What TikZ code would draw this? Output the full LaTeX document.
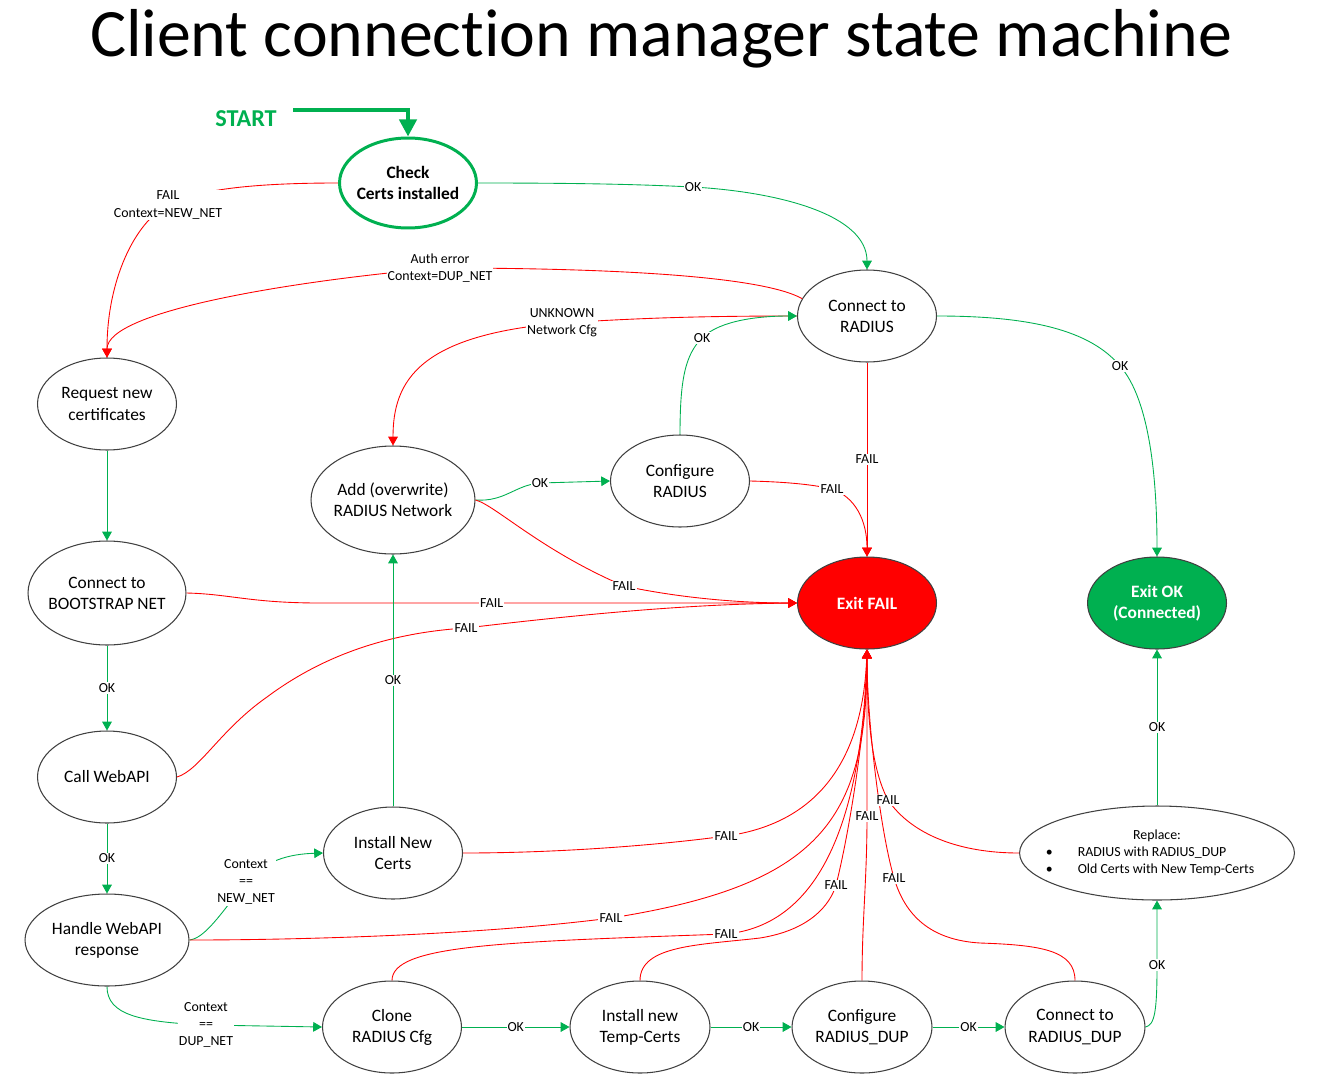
\documentclass[tikz,border=0pt]{standalone}
\usepackage{fontspec}
\setmainfont{Carlito}
\usetikzlibrary{arrows.meta,shapes.geometric}
\definecolor{OkClr}{RGB}{0,176,80}
\definecolor{FailClr}{RGB}{255,0,0}
\definecolor{EdgeClr}{RGB}{64,64,64}

\begin{document}
\begin{tikzpicture}[x=0.02cm,y=-0.02cm,
  state/.style={ellipse,draw=EdgeClr,line width=0.6pt,minimum width=2.78cm,minimum height=1.84cm,
    inner xsep=-4pt,inner ysep=0pt,align=center,font=\fontsize{9.9}{12}\selectfont},
  bigstate/.style={minimum width=3.28cm,minimum height=2.16cm},
  lbl/.style={fill=white,inner sep=0.6pt,align=center,font=\fontsize{7.9}{9.7}\selectfont},
  okline/.style={draw=OkClr,line width=0.5pt,-{Triangle[length=5pt,width=5.5pt]}},
  failline/.style={draw=FailClr,line width=0.5pt,-{Triangle[length=5pt,width=5.5pt]}}]

\useasboundingbox (0,0) rectangle (1327,1091);

\node[anchor=base,font=\fontsize{38.6}{44}\selectfont\addfontfeature{Ligatures=NoCommon}] (title) at (661,57) {Client connection manager state machine};

\node[anchor=base,text=OkClr,font=\fontsize{13.8}{16}\selectfont\bfseries] (start) at (246,127) {START};
\coordinate (s0) at (293,110);

\node[state,draw=OkClr,line width=1.7pt,minimum width=2.74cm,minimum height=1.8cm,
  font=\fontsize{9.9}{12}\selectfont\bfseries] (check) at (408,183) {Check\\Certs installed};
\node[state] (radius) at (867,316) {Connect to\\RADIUS};
\node[state] (req) at (107,404) {Request new\\certificates};
\node[state,bigstate] (add) at (393,500) {Add (overwrite)\\RADIUS Network};
\node[state] (cfg) at (680,481) {Configure\\RADIUS};
\node[state,fill=FailClr,text=white,font=\fontsize{9.9}{12}\selectfont\bfseries] (exitfail) at (867,603) {Exit FAIL};
\node[state,fill=OkClr,text=white,font=\fontsize{9.9}{12}\selectfont\bfseries] (exitok) at (1157,603) {Exit OK\\(Connected)};
\node[state,minimum width=3.16cm,minimum height=2.08cm] (boot) at (107,593) {Connect to\\BOOTSTRAP NET};
\node[state] (callapi) at (107,777) {Call WebAPI};
\node[state] (install) at (393,853) {Install New\\Certs};
\node[state,minimum width=3.28cm] (handle) at (107,940) {Handle WebAPI\\response};
\node[state,minimum width=5.44cm,minimum height=1.88cm,inner xsep=-8pt,font=\fontsize{7.9}{9.7}\selectfont] (replace) at (1157,853)
  {\begin{tabular}{@{}p{0.64cm}@{}l@{\hspace{0.28cm}}}\multicolumn{2}{c}{Replace:}\\ \textbullet & RADIUS with RADIUS\_DUP\\ \textbullet & Old Certs with New Temp-Certs\end{tabular}};
\node[state] (clone) at (392,1027) {Clone\\RADIUS Cfg};
\node[state,minimum width=2.8cm] (temp) at (640,1027) {Install new\\Temp-Certs};
\node[state,minimum width=2.8cm] (cfgdup) at (862,1027) {Configure\\RADIUS\_DUP};
\node[state,minimum width=2.8cm] (conndup) at (1075,1027) {Connect to\\RADIUS\_DUP};

\draw[draw=OkClr,line width=2.3pt,-{Triangle[length=9.7pt,width=9.7pt]}] (s0) -| (check.north);

\draw[okline] (check.east) .. controls (600,183) and (650,185) .. (693,187) node[lbl]{OK} .. controls (780,192) and (867,215) .. (radius.north);
\draw[failline] (check.west) .. controls (250,183) and (195,190) .. (168,205) node[lbl]{FAIL\\Context=NEW\_NET} .. controls (135,222) and (107,280) .. (req.north);
\draw[failline] (radius.165) .. controls (760,275) and (600,268) .. (440,268) node[lbl]{Auth error\\Context=DUP\_NET} .. controls (300,280) and (107,310) .. (req.north);
\draw[failline] (radius.west) .. controls (700,316) and (640,318) .. (562,323) node[lbl]{UNKNOWN\\Network Cfg} .. controls (420,335) and (393,380) .. (add.north);
\draw[okline] (cfg.north) .. controls (680,380) and (685,355) .. (702,338) node[lbl]{OK} .. controls (720,320) and (760,316) .. (radius.west);
\draw[okline] (radius.east) .. controls (1030,316) and (1090,330) .. (1120,366) node[lbl]{OK} .. controls (1150,400) and (1157,480) .. (exitok.north);
\draw[failline] (radius.south) -- node[lbl]{FAIL} (exitfail.north);

\draw[okline] (add.east) .. controls (505,502) and (515,485) .. (540,483) node[lbl]{OK} -- (cfg.west);
\draw[failline] (add.east) .. controls (495,505) and (540,550) .. (624,586) node[lbl]{FAIL} .. controls (680,598) and (740,603) .. (exitfail.west);
\draw[failline] (cfg.east) .. controls (790,482) and (815,485) .. (832,489) node[lbl]{FAIL} .. controls (855,497) and (867,520) .. (exitfail.north);

\draw[okline] (req.south) -- (boot.north);
\draw[failline] (boot.east) .. controls (230,594) and (250,603) .. (320,603) -- node[lbl,pos=0.36]{FAIL} (exitfail.west);
\draw[okline] (boot.south) -- node[lbl]{OK} (callapi.north);
\draw[failline] (callapi.east) .. controls (200,770) and (220,730) .. (267,697) .. controls (330,650) and (400,632) .. (466,628) node[lbl]{FAIL} .. controls (600,612) and (700,604) .. (exitfail.west);
\draw[okline] (callapi.south) -- node[lbl]{OK} (handle.north);

\draw[okline] (handle.east) .. controls (205,938) and (220,915) .. (246,882) node[lbl]{Context\\==\\NEW\_NET} .. controls (265,860) and (290,854) .. (install.west);
\draw[failline] (handle.east) .. controls (300,940) and (480,935) .. (611,918) node[lbl]{FAIL} .. controls (820,885) and (867,820) .. (exitfail.south);
\draw[okline] (handle.south) .. controls (107,1015) and (140,1022) .. (206,1025) node[lbl]{Context\\==\\DUP\_NET} -- (clone.west);

\draw[okline] (install.north) -- node[lbl]{OK} (add.south);
\draw[failline] (install.east) .. controls (560,853) and (660,845) .. (726,836) node[lbl]{FAIL} .. controls (800,826) and (862,780) .. (exitfail.south);

\draw[failline] (clone.north) .. controls (392,945) and (500,942) .. (726,934) node[lbl]{FAIL} .. controls (820,925) and (862,820) .. (exitfail.south);
\draw[okline] (clone.east) -- node[lbl]{OK} (temp.west);
\draw[failline] (temp.north) .. controls (640,945) and (700,945) .. (760,938) .. controls (810,930) and (830,905) .. (836,885) node[lbl]{FAIL} .. controls (850,830) and (867,720) .. (exitfail.south);
\draw[okline] (temp.east) -- node[lbl]{OK} (cfgdup.west);
\draw[failline] (cfgdup.north) .. controls (862,920) and (867,880) .. (867,816) node[lbl]{FAIL} -- (exitfail.south);
\draw[okline] (cfgdup.east) -- node[lbl]{OK} (conndup.west);
\draw[failline] (conndup.north) .. controls (1075,950) and (1040,945) .. (980,943) .. controls (930,940) and (905,915) .. (894,878) node[lbl]{FAIL} .. controls (880,830) and (867,720) .. (exitfail.south);
\draw[okline] (conndup.east) .. controls (1155,1025) and (1157,1010) .. (1157,965) node[lbl]{OK} -- (replace.south);

\draw[failline] (replace.west) .. controls (960,853) and (912,835) .. (888,800) node[lbl]{FAIL} .. controls (872,770) and (867,720) .. (exitfail.south);
\draw[okline] (replace.north) -- node[lbl]{OK} (exitok.south);

\end{tikzpicture}
\end{document}
